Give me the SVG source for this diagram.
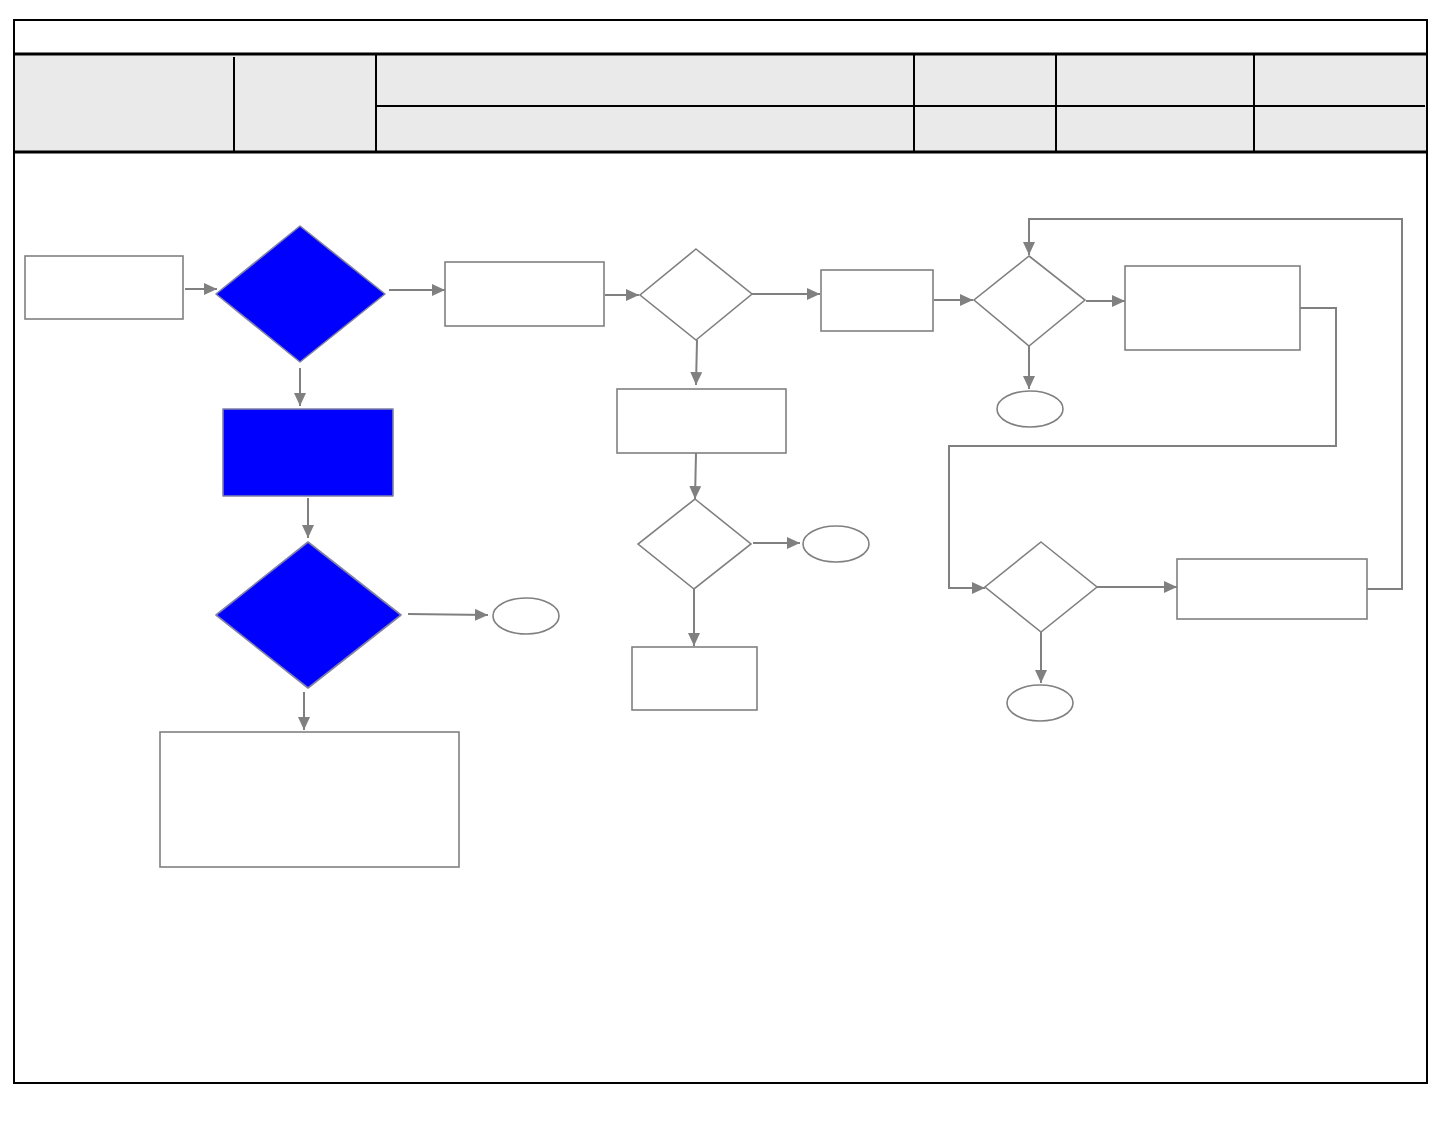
<svg xmlns="http://www.w3.org/2000/svg" width="1439" height="1146" viewBox="0 0 1439 1146">
<style>
.frame{fill:none;stroke:#000;stroke-width:2}
.hdr{stroke:#000;stroke-width:2}
.thick{stroke:#000;stroke-width:3}
.box{fill:#fff;stroke:#808080;stroke-width:1.6}
.blue{fill:#0000ff;stroke:#8080a8;stroke-width:1.6;stroke-linejoin:round}
.con{fill:none;stroke:#808080;stroke-width:2}
.arr{fill:none;stroke:#808080;stroke-width:2;marker-end:url(#ah)}
</style>
<defs>
<marker id="ah" markerUnits="userSpaceOnUse" markerWidth="14" markerHeight="12" refX="13" refY="6" orient="auto">
<path d="M0,0 L13,6 L0,12 z" fill="#808080"/>
</marker>
</defs>
<rect width="1439" height="1146" fill="#fff"/>
<g id="header">
<rect x="15" y="55" width="1411" height="97" fill="#eaeaea"/>
<rect class="frame" x="14" y="20" width="1413" height="1063"/>
<line class="thick" x1="14" y1="54" x2="1427" y2="54"/>
<line class="thick" x1="14" y1="152" x2="1427" y2="152"/>
<line class="hdr" x1="376" y1="106" x2="1425" y2="106"/>
<line class="hdr" x1="234" y1="57" x2="234" y2="152"/>
<line class="hdr" x1="376" y1="55" x2="376" y2="152"/>
<line class="hdr" x1="914" y1="55" x2="914" y2="152"/>
<line class="hdr" x1="1056" y1="55" x2="1056" y2="152"/>
<line class="hdr" x1="1254" y1="55" x2="1254" y2="152"/>
</g>
<g id="connectors">
<line class="arr" x1="185" y1="289" x2="217" y2="289"/>
<line class="arr" x1="389" y1="290" x2="445" y2="290"/>
<line class="arr" x1="300" y1="368" x2="300" y2="406"/>
<line class="arr" x1="308" y1="498" x2="308" y2="538"/>
<line class="arr" x1="408" y1="614" x2="488" y2="615"/>
<line class="arr" x1="304" y1="692" x2="304" y2="730"/>
<line class="arr" x1="605" y1="295" x2="639" y2="295"/>
<line class="arr" x1="752" y1="294" x2="820" y2="294"/>
<line class="arr" x1="934" y1="300" x2="973" y2="300"/>
<line class="arr" x1="697" y1="340" x2="696" y2="385"/>
<line class="arr" x1="696" y1="453" x2="695" y2="499"/>
<line class="arr" x1="753" y1="543" x2="800" y2="543"/>
<line class="arr" x1="694" y1="589" x2="694" y2="646"/>
<line class="arr" x1="1086" y1="301" x2="1125" y2="301"/>
<line class="arr" x1="1029" y1="346" x2="1029" y2="389"/>
<polyline class="arr" points="1367,589 1402,589 1402,219 1029,219 1029,255"/>
<polyline class="arr" points="1300,308 1336,308 1336,446 949,446 949,588 985,588"/>
<line class="arr" x1="1097" y1="587" x2="1177" y2="587"/>
<line class="arr" x1="1041" y1="632" x2="1041" y2="683"/>
</g>
<g id="n1"><rect class="box" x="25" y="256" width="158" height="63"/></g>
<g id="n2"><polygon class="blue" points="300,226 385,294 300,362 216,294"/></g>
<g id="n3"><rect class="box" x="445" y="262" width="159" height="64"/></g>
<g id="n4"><rect class="blue" x="223" y="409" width="170" height="87"/></g>
<g id="n5"><polygon class="blue" points="308,542 401,615 308,688 216,615"/></g>
<g id="n6"><ellipse class="box" cx="526" cy="616" rx="33" ry="18"/></g>
<g id="n7"><rect class="box" x="160" y="732" width="299" height="135"/></g>
<g id="n8"><polygon class="box" points="696,249 752,294 696,340 640,295"/></g>
<g id="n9"><rect class="box" x="821" y="270" width="112" height="61"/></g>
<g id="n10"><rect class="box" x="617" y="389" width="169" height="64"/></g>
<g id="n11"><polygon class="box" points="695,499 751,544 694,589 638,544"/></g>
<g id="n12"><ellipse class="box" cx="836" cy="544" rx="33" ry="18"/></g>
<g id="n13"><rect class="box" x="632" y="647" width="125" height="63"/></g>
<g id="n14"><polygon class="box" points="1029,256 1085,300 1029,346 974,300"/></g>
<g id="n15"><rect class="box" x="1125" y="266" width="175" height="84"/></g>
<g id="n16"><ellipse class="box" cx="1030" cy="409" rx="33" ry="18"/></g>
<g id="n17"><polygon class="box" points="1041,542 1097,587 1041,632 985,587"/></g>
<g id="n18"><rect class="box" x="1177" y="559" width="190" height="60"/></g>
<g id="n19"><ellipse class="box" cx="1040" cy="703" rx="33" ry="18"/></g>
</svg>
